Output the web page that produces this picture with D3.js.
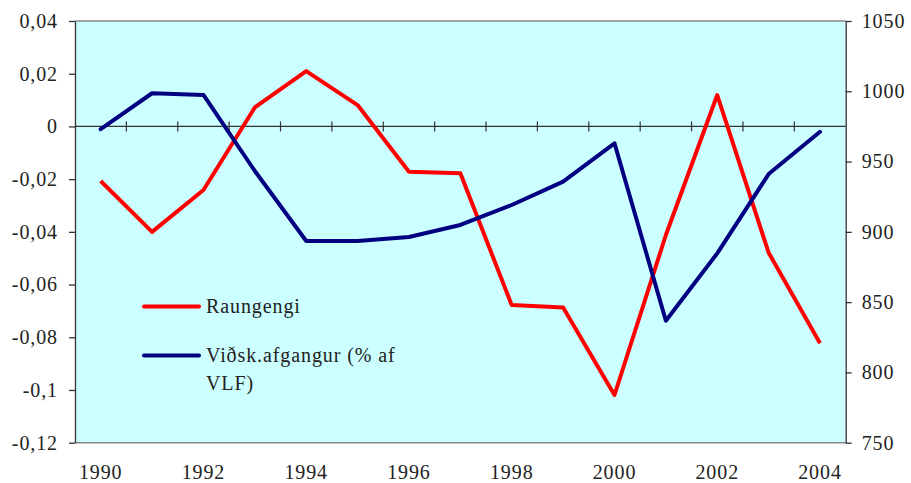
<!DOCTYPE html>
<html>
<head>
<meta charset="utf-8">
<script src="https://cdn.jsdelivr.net/npm/d3@7"></script>
<style>
  body { margin: 0; background: #fff; }
  svg text { font-family: "Times New Roman", "Liberation Serif", "DejaVu Serif", serif; fill: #222; letter-spacing: 0.9px; }
</style>
</head>
<body>
<script>
// data
var years = [1990, 1991, 1992, 1993, 1994, 1995, 1996, 1997, 1998, 1999, 2000, 2001, 2002, 2003, 2004];
var raungengi = [-0.0207, -0.0400, -0.0241, 0.0072, 0.0210, 0.0081, -0.0172, -0.0178, -0.0678, -0.0687, -0.1019, -0.0412, 0.0119, -0.0479, -0.0823];
var vidsk = [973, 998.6, 997.4, 943.3, 893.5, 893.5, 896.3, 904.9, 919.1, 935.7, 963, 836.8, 884.7, 941.1, 971.2];
var leftTicks = [0.04, 0.02, 0, -0.02, -0.04, -0.06, -0.08, -0.1, -0.12];
var rightTicks = [1050, 1000, 950, 900, 850, 800, 750];
var yearLabels = [1990, 1992, 1994, 1996, 1998, 2000, 2002, 2004];

var width = 911, height = 483,
    plotLeft = 75, plotRight = 845.7, plotTop = 21, plotBottom = 442.7;

var svg = d3.select("body").append("svg")
    .attr("width", width)
    .attr("height", height);

var x = d3.scaleBand().domain(years).range([plotLeft, plotRight]).padding(0);
var yL = d3.scaleLinear().domain([-0.12, 0.04]).range([plotBottom, plotTop]);
var yR = d3.scaleLinear().domain([750, 1050]).range([plotBottom, plotTop]);

// plot background
svg.append("rect")
    .attr("x", plotLeft).attr("y", plotTop)
    .attr("width", plotRight - plotLeft).attr("height", plotBottom - plotTop)
    .attr("fill", "#ccffff");

// grey frame top / bottom
svg.append("line").attr("x1", plotLeft).attr("x2", plotRight).attr("y1", plotTop).attr("y2", plotTop)
    .attr("stroke", "#888").attr("stroke-width", 1.5);
svg.append("line").attr("x1", plotLeft).attr("x2", plotRight).attr("y1", plotBottom).attr("y2", plotBottom)
    .attr("stroke", "#888").attr("stroke-width", 1.5);

// zero line with category ticks
var y0 = yL(0);
svg.append("line").attr("x1", plotLeft).attr("x2", plotRight).attr("y1", y0).attr("y2", y0)
    .attr("stroke", "#333").attr("stroke-width", 1.3);
svg.selectAll(".cat-tick")
  .data(years.slice(1))
  .enter()
  .append("line")
    .attr("class", "cat-tick")
    .attr("x1", function(d){return x(d)})
    .attr("x2", function(d){return x(d)})
    .attr("y1", y0 - 5)
    .attr("y2", y0 + 5)
    .attr("stroke", "#333").attr("stroke-width", 1.2);

var commaFmt = function(d){ return String(d).replace(".", ","); };

var leftAxis = d3.axisLeft(yL).tickValues(leftTicks).tickFormat(commaFmt)
    .tickSize(6).tickSizeOuter(0).tickPadding(11);
var rightAxis = d3.axisRight(yR).tickValues(rightTicks).tickFormat(d3.format("d"))
    .tickSize(6).tickSizeOuter(0).tickPadding(10);
var bottomAxis = d3.axisBottom(x).tickValues(yearLabels).tickSize(0).tickPadding(22);

svg.append("g")
    .attr("class", "y axis left")
    .attr("transform", "translate(" + plotLeft + ",0)")
  .call(leftAxis);

svg.append("g")
    .attr("class", "y axis right")
    .attr("transform", "translate(" + plotRight + ",0)")
  .call(rightAxis);

svg.append("g")
    .attr("class", "x axis")
    .attr("transform", "translate(0," + plotBottom + ")")
  .call(bottomAxis)
  .select(".domain").remove();

// drop d3's default sans-serif on the axis groups
svg.selectAll(".axis").attr("font-family", null).attr("font-size", null);
svg.selectAll(".axis text")
    .style("font-size", "20px")
    .attr("fill", "#222");
svg.selectAll(".y.axis path, .y.axis line")
    .attr("stroke", "#333").attr("stroke-width", 1.3);

// lines
var cx = function(i){ return x(years[i]) + x.bandwidth() / 2; };

var redLine = d3.line()
    .x(function(d, i){ return cx(i); })
    .y(function(d){ return yL(d); });
var blueLine = d3.line()
    .x(function(d, i){ return cx(i); })
    .y(function(d){ return yR(d); });

svg.append("path")
    .datum(raungengi)
    .attr("d", redLine)
    .attr("fill", "none")
    .attr("stroke", "#ff0000")
    .attr("stroke-width", 4)
    .attr("stroke-linejoin", "round");

svg.append("path")
    .datum(vidsk)
    .attr("d", blueLine)
    .attr("fill", "none")
    .attr("stroke", "#000080")
    .attr("stroke-width", 4)
    .attr("stroke-linejoin", "round")
    .attr("stroke-linecap", "round");

// legend
var legend = svg.append("g").attr("class", "legend");
legend.append("line")
    .attr("x1", 144).attr("x2", 199).attr("y1", 306.5).attr("y2", 306.5)
    .attr("stroke", "#ff0000").attr("stroke-width", 4).attr("stroke-linecap", "round");
legend.append("text")
    .attr("x", 206).attr("y", 313)
    .style("font-size", "20px")
    .text("Raungengi");
legend.append("line")
    .attr("x1", 144).attr("x2", 199).attr("y1", 355.5).attr("y2", 355.5)
    .attr("stroke", "#000080").attr("stroke-width", 4).attr("stroke-linecap", "round");
legend.append("text")
    .attr("x", 206).attr("y", 362)
    .style("font-size", "20px")
    .text("Viðsk.afgangur (% af");
legend.append("text")
    .attr("x", 206).attr("y", 390)
    .style("font-size", "20px")
    .text("VLF)");
</script>
</body>
</html>
